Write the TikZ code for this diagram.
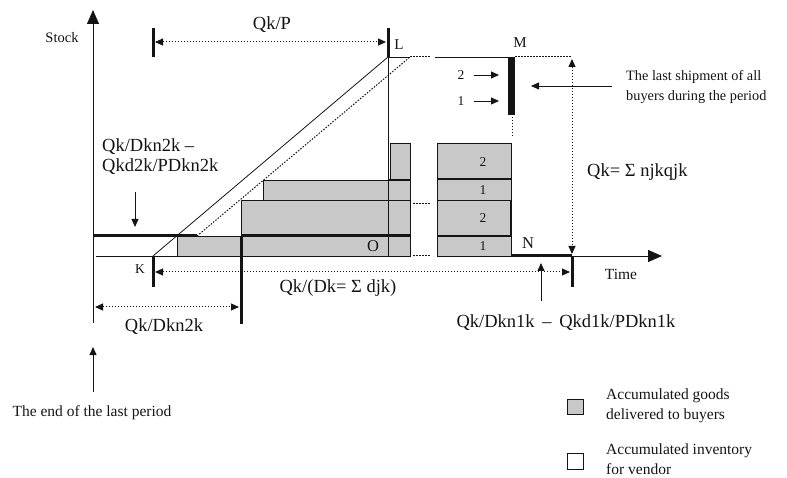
\documentclass[tikz,border=0pt]{standalone}
\usepackage{fontspec}
\setmainfont{Liberation Serif}
\usetikzlibrary{arrows.meta}
\definecolor{boxgrey}{RGB}{200,200,200}
\definecolor{ink}{RGB}{20,20,20}
\tikzset{
  thin line/.style={draw=ink, line width=0.8pt},
  heavy/.style={draw=ink, line width=3pt},
  midheavy/.style={draw=ink, line width=1.8pt},
  dots/.style={draw=ink, line width=1pt, dash pattern=on 1.5pt off 1.5pt},
  goods/.style={fill=boxgrey, draw=ink, line width=0.8pt},
  tip/.style={-{Triangle[length=8pt,width=7pt]}},
  twotip/.style={{Triangle[length=8pt,width=7pt]}-{Triangle[length=8pt,width=7pt]}},
  axistip/.style={-{Triangle[length=14pt,width=12pt]}},
  lbl/.style={font=\fontsize{18.5}{20}\selectfont, inner sep=0pt, text=ink},
  letter/.style={font=\fontsize{15}{16}\selectfont, inner sep=0pt, text=ink},
  bigletter/.style={font=\fontsize{16.5}{17}\selectfont, inner sep=0pt, text=ink},
  small/.style={font=\fontsize{15.5}{20}\selectfont, inner sep=0pt, text=ink},
  num/.style={font=\fontsize{13.5}{14}\selectfont, inner sep=0pt, text=ink},
}
\begin{document}
\begin{tikzpicture}[x=1pt, y=-1pt]
\useasboundingbox (0,0) rectangle (787,478);
% key points
\coordinate (ybot) at (93,323);
\coordinate (ytop) at (93,10);
\coordinate (K) at (153,256);
\coordinate (Kt) at (153,287);
\coordinate (L) at (388,57);
\coordinate (Lt) at (388,28);
\coordinate (Pt) at (153,28);
\coordinate (Pb) at (153,57);
\coordinate (Lbase) at (388,256);
\coordinate (N) at (511,256);
\coordinate (Q) at (572,256);
\coordinate (Qt) at (572,287);
\coordinate (xend) at (662,256);
\coordinate (Qtop) at (572,57);

% grey goods, left block
\draw[goods] (177,236) rectangle (410,256);
\draw[goods] (241,200) rectangle (410,236);
\draw[goods] (263,180) rectangle (410,200);
\draw[goods] (390,143) rectangle (410,180);
% grey goods, right block
\draw[goods] (437,236) rectangle (511,256);
\draw[goods] (437,200) rectangle (511,236);
\draw[goods] (437,179) rectangle (511,200);
\draw[goods] (437,143) rectangle (511,179);
\draw[midheavy] (437,179) -- (511,179);
\draw[thin line, line width=1.4pt] (437,236) -- (511,236);
\draw[thin line, line width=1.4pt] (511,200) -- (511,236);

% axes
\draw[thin line, axistip] (ybot) -- (ytop);
\draw[thin line] (96,256) -- (177,256);
\draw[thin line, axistip] (Q) -- (xend);

% production lines
\draw[thin line] (K) -- (L);
\draw[dots] (197,236) -- (410,57);
\draw[thin line] (L) -- (Lbase);
\draw[thin line] (L) -- (410,57);
\draw[dots] (410,57) -- (430,57);
\draw[thin line] (435,57) -- (512,57);
\draw[dots] (515,57) -- (Qtop);

% heavy segments
\draw[heavy] (93,236) -- (197,236);
\draw[heavy] (241,236) -- (410,236);
\draw[midheavy] (388,180) -- (410,180);
\draw[heavy] (241,236) -- (241,324);
\draw[heavy] (N) -- (Q);
\draw[heavy] (K) -- (Kt);
\draw[heavy] (Q) -- (Qt);
\draw[heavy] (Lt) -- (L);
\draw[heavy] (Pt) -- (Pb);
\fill[ink] (508,57) rectangle (515,115);

% dotted gap lines
\draw[dots] (413,204) -- (430,204);
\draw[dots] (413,256) -- (430,256);
\draw[dots] (512,117) -- (512,137);

% dimension arrows
\draw[dots, twotip] (155,42) -- (386,42);
\draw[dots, twotip] (155,272) -- (570,272);
\draw[dots, twotip] (95,307) -- (239,307);
\draw[dots, twotip] (572,59) -- (572,254);

% pointer arrows
\draw[thin line, tip] (135,192) -- (135,227);
\draw[thin line, tip] (474,75) -- (499,75);
\draw[thin line, tip] (474,101) -- (499,101);
\draw[thin line, tip] (612,86) -- (531,86);
\draw[thin line, tip] (541,301) -- (541,263);
\draw[thin line, tip] (93,392) -- (93,347);

% labels
\node[small, font=\fontsize{14.5}{16}\selectfont] (stock) at (62,38) {Stock};
\node[lbl] (qkp) at (272,25) {Qk/P};
\node[letter] (Llab) at (399,45) {L};
\node[letter] (Mlab) at (520,43) {M};
\node[num] (a2) at (461,75) {2};
\node[num] (a1) at (461,101) {1};
\node[anchor=west, align=left, inner sep=0pt, text=ink, font=\fontsize{14.3}{20}\selectfont] (last) at (626,87) {The last shipment of all\\buyers during the period};
\node[anchor=west, align=left, inner sep=0pt, text=ink, font=\fontsize{18.5}{20}\selectfont] (dkn2) at (102,157) {Qk/Dkn2k –\\Qkd2k/PDkn2k};
\node[bigletter] (Olab) at (373,246) {O};
\node[num] (b4) at (483,162) {2};
\node[num] (b3) at (483,190) {1};
\node[num] (b2) at (483,218) {2};
\node[num] (b1) at (483,246) {1};
\node[bigletter] (Nlab) at (528,243) {N};
\node[lbl, anchor=west] (qksum) at (587,172) {Qk= Σ njkqjk};
\node[small] (time) at (621,274) {Time};
\node[num] (Klab) at (140,269) {K};
\node[lbl] (qkdk) at (338,288) {Qk/(Dk= Σ djk)};
\node[lbl] (qkdkn2) at (164,327) {Qk/Dkn2k};
\node[lbl] (qkdkn1) at (566,323) {Qk/Dkn1k \,–\, Qkd1k/PDkn1k};
\node[small] (endp) at (92,413) {The end of the last period};

% legend
\draw[goods] (567,399) rectangle (583,414);
\draw[thin line, fill=white] (567,453) rectangle (583,469);
\node[small, anchor=west, align=left] (leg1) at (606,406) {Accumulated goods\\delivered to buyers};
\node[small, anchor=west, align=left] (leg2) at (606,459) {Accumulated inventory\\for vendor};
\end{tikzpicture}
\end{document}
